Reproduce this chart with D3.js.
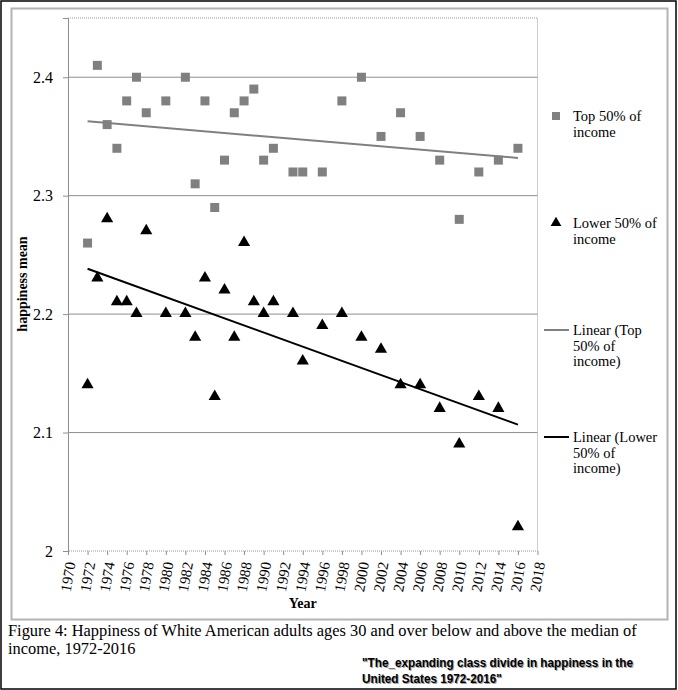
<!doctype html>
<html>
<head>
<style>
body { margin: 0; background: #fff; }
.grid line { stroke: #8e8e8e; stroke-width: 1; }
.tick text { fill: #000; }
</style>
</head>
<body>
<div id="root"></div>
<script src="https://d3js.org/d3.v7.min.js"></script>
<script>

var years = [1972, 1973, 1974, 1975, 1976, 1977, 1978, 1980, 1982, 1983, 1984, 1985, 1986, 1987, 1988, 1989, 1990, 1991, 1993, 1994, 1996, 1998, 2000, 2002, 2004, 2006, 2008, 2010, 2012, 2014, 2016];
var top50 = [2.26, 2.41, 2.36, 2.34, 2.38, 2.40, 2.37, 2.38, 2.40, 2.31, 2.38, 2.29, 2.33, 2.37, 2.38, 2.39, 2.33, 2.34, 2.32, 2.32, 2.32, 2.38, 2.40, 2.35, 2.37, 2.35, 2.33, 2.28, 2.32, 2.33, 2.34];
var lower50 = [2.14, 2.23, 2.28, 2.21, 2.21, 2.20, 2.27, 2.20, 2.20, 2.18, 2.23, 2.13, 2.22, 2.18, 2.26, 2.21, 2.20, 2.21, 2.20, 2.16, 2.19, 2.20, 2.18, 2.17, 2.14, 2.14, 2.12, 2.09, 2.13, 2.12, 2.02];
var xTicks = d3.range(1970, 2019, 2);
var yTicks = [2, 2.1, 2.2, 2.3, 2.4];

var W = 678, H = 690;
var svg = d3.select('#root').append('svg')
	.attr('width', W)
	.attr('height', H);

var serif = '"Liberation Serif", "Times New Roman", serif';

// frames
svg.append('rect').attr('x', 1).attr('y', 1).attr('width', 675).attr('height', 688)
	.attr('fill', 'none').attr('stroke', '#000').attr('stroke-width', 1.5);
svg.append('rect').attr('x', 11.5).attr('y', 8.5).attr('width', 656).attr('height', 611)
	.attr('fill', 'none').attr('stroke', '#b4b4b4').attr('stroke-width', 2);

var x = d3.scaleLinear().domain([1970, 2018]).range([68, 537.5]);
var y = d3.scaleLinear().domain([2, 2.45]).range([551, 18]);

// gridlines
svg.append('g').attr('class', 'grid')
	.selectAll('line').data(yTicks.slice(1)).enter().append('line')
	.attr('x1', x(1970)).attr('x2', x(2018))
	.attr('y1', function(d){ return y(d); }).attr('y2', function(d){ return y(d); });

// dotted plot border (top, right, bottom)
svg.append('path')
	.attr('d', 'M' + x(1970) + ',' + y(2.45) + 'H' + x(2018) + 'V' + y(2) + 'H' + x(1970))
	.attr('fill', 'none').attr('stroke', '#9a9a9a').attr('stroke-width', 1)
	.attr('stroke-dasharray', '1,1');

// y axis
var yAxis = svg.append('g').attr('transform', 'translate(' + x(1970) + ',0)')
	.call(d3.axisLeft(y).tickValues(yTicks).tickSize(5).tickPadding(10)
		.tickFormat(function(d){ return d === 2 ? '2' : d3.format('.1f')(d); }));
yAxis.select('.domain').attr('stroke', '#8e8e8e');
yAxis.selectAll('.tick line').attr('stroke', '#8e8e8e');
yAxis.selectAll('text').attr('font-family', serif).attr('font-size', 16);

// x axis
var xAxis = svg.append('g').attr('transform', 'translate(0,' + y(2) + ')')
	.call(d3.axisBottom(x).tickValues(xTicks).tickSize(4).tickFormat(d3.format('d')));
xAxis.select('.domain').remove();
xAxis.selectAll('.tick line').attr('stroke', '#8e8e8e');
xAxis.selectAll('text')
	.attr('font-family', serif).attr('font-size', 15)
	.attr('text-anchor', 'end')
	.attr('dy', '0.35em')
	.attr('transform', 'translate(2,11) rotate(-80)')
	.attr('x', 0).attr('y', 0);

// axis titles
svg.append('text').attr('x', x(1994)).attr('y', 608)
	.attr('text-anchor', 'middle').attr('font-family', serif)
	.attr('font-weight', 'bold').attr('font-size', 14).text('Year');
svg.append('text').attr('transform', 'translate(27,284) rotate(-90)')
	.attr('text-anchor', 'middle').attr('font-family', serif)
	.attr('font-weight', 'bold').attr('font-size', 14).text('happiness mean');

// linear trend
function fit(xs, ys) {
	var mx = d3.mean(xs), my = d3.mean(ys);
	var num = d3.sum(xs, function(v, i){ return (v - mx) * (ys[i] - my); });
	var den = d3.sum(xs, function(v){ return (v - mx) * (v - mx); });
	var b = num / den;
	return function(v){ return my + b * (v - mx); };
}
var x0 = d3.min(years), x1 = d3.max(years);
var fTop = fit(years, top50), fLow = fit(years, lower50);
var line = d3.line().x(function(d){ return x(d[0]); }).y(function(d){ return y(d[1]); });

svg.append('path').datum([[x0, fTop(x0)], [x1, fTop(x1)]])
	.attr('d', line).attr('fill', 'none').attr('stroke', '#808080').attr('stroke-width', 2);
svg.append('path').datum([[x0, fLow(x0)], [x1, fLow(x1)]])
	.attr('d', line).attr('fill', 'none').attr('stroke', '#000').attr('stroke-width', 2);

// points
var sq = d3.symbol().type(d3.symbolSquare).size(81);
var tri = d3.symbol().type(d3.symbolTriangle).size(64);

svg.append('g').selectAll('path').data(years).enter().append('path')
	.attr('d', sq)
	.attr('transform', function(d, i){ return 'translate(' + x(d) + ',' + y(top50[i]) + ')'; })
	.attr('fill', '#808080');

svg.append('g').selectAll('path').data(years).enter().append('path')
	.attr('d', tri)
	.attr('transform', function(d, i){ return 'translate(' + x(d) + ',' + (y(lower50[i]) - 0.5) + ')'; })
	.attr('fill', '#000');

// legend
var legend = [
	{ type: 'sq', y: 116, lines: ['Top 50% of', 'income'] },
	{ type: 'tri', y: 223, lines: ['Lower 50% of', 'income'] },
	{ type: 'lineTop', y: 330, lines: ['Linear (Top', '50% of', 'income)'] },
	{ type: 'lineLow', y: 437, lines: ['Linear (Lower', '50% of', 'income)'] }
];
var lg = svg.append('g').selectAll('g').data(legend).enter().append('g');
lg.each(function(d){
	var g = d3.select(this);
	if (d.type === 'sq') {
		g.append('path').attr('d', d3.symbol().type(d3.symbolSquare).size(64))
			.attr('transform', 'translate(556,' + d.y + ')').attr('fill', '#808080');
	} else if (d.type === 'tri') {
		g.append('path').attr('d', d3.symbol().type(d3.symbolTriangle).size(50))
			.attr('transform', 'translate(556,' + d.y + ')').attr('fill', '#000');
	} else {
		g.append('line').attr('x1', 544).attr('x2', 569).attr('y1', d.y).attr('y2', d.y)
			.attr('stroke', d.type === 'lineTop' ? '#808080' : '#000').attr('stroke-width', 2);
	}
	g.selectAll('text').data(d.lines).enter().append('text')
		.attr('x', 573).attr('y', function(t, i){ return d.y + 5 + i * 15.5; })
		.attr('font-family', serif).attr('font-size', 14.5).text(function(t){ return t; });
});

// caption
var caption = ['Figure 4: Happiness of White American adults ages 30 and over below and above the median of',
	'income, 1972-2016'];
svg.append('g').selectAll('text').data(caption).enter().append('text')
	.attr('x', 8).attr('y', function(d, i){ return 636 + i * 18; })
	.attr('font-family', serif).attr('font-size', 16.4).text(function(d){ return d; });

var quote = ['"The_expanding class divide in happiness in the', 'United States 1972-2016"'];
var qFont = '"Liberation Sans", Arial, sans-serif';
[['#a0a0a0', 1, 1], ['#000', 0, 0]].forEach(function(s){
	svg.append('g').attr('transform', 'translate(' + (362 + s[1]) + ',0) scale(0.87,1)')
		.selectAll('text').data(quote).enter().append('text')
		.attr('x', 0).attr('y', function(d, i){ return 667 + i * 16 + s[2]; })
		.attr('font-family', qFont).attr('font-weight', 'bold').attr('font-size', 13.5)
		.attr('fill', s[0]).text(function(d){ return d; });
});

</script>
</body>
</html>
